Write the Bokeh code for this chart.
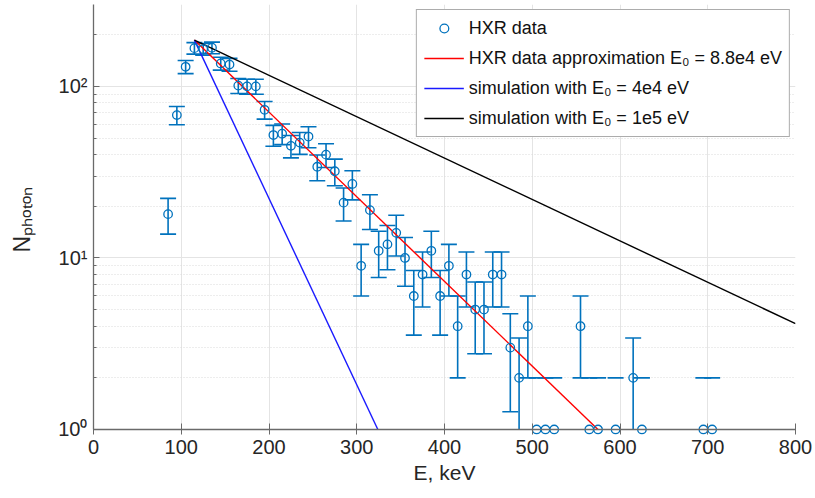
import numpy as np
from bokeh.plotting import figure
from bokeh.models import (FixedTicker, Legend, LegendItem, Range1d, Span,
                          ColumnDataSource, BoxAnnotation)
from bokeh.embed import file_html
from bokeh.resources import INLINE

# ---- data ----
energy_keV = [85, 95, 105, 115, 125, 135, 145, 155, 165, 175,
              185, 195, 205, 215, 225, 235, 245, 255, 265, 275,
              285, 295, 305, 315, 325, 335, 345, 355, 365, 375,
              385, 395, 405, 415, 425, 435, 445, 455, 465, 475,
              485, 495, 505, 515, 525,
              555, 565, 575, 595, 615, 625, 695, 705]
photon_counts = [18, 68, 130, 167, 165, 168, 136, 134, 101, 100,
                 100, 73, 52, 53, 45, 47, 51, 34, 40, 32,
                 21, 27, 9, 19, 11, 12, 14, 10, 6, 8,
                 11, 6, 9, 4, 8, 5, 5, 8, 8, 3,
                 2, 4, 1, 1, 1,
                 4, 1, 1, 1, 2, 1, 1, 1]

x_ticks = [0, 100, 200, 300, 400, 500, 600, 700, 800]
y_ticks = [1, 10, 100]
y_tick_labels = ["10\u2070", "10\u00b9", "10\u00b2"]
y_minor_ticks = [2, 3, 4, 5, 6, 7, 8, 9, 20, 30, 40, 50, 60, 70, 80, 90, 200]

# model lines: N = N0 * exp(-(E - E_start) / E0)
line_start_keV = 115
line_start_counts = 186
line_E0_keV = [88, 40, 180]
line_labels = ["HXR data approximation E\u2080 = 8.8e4 eV",
               "simulation with E\u2080 = 4e4 eV",
               "simulation with E\u2080 = 1e5 eV"]
line_colors = ["#ff0000", "#1a1aff", "#000000"]

data_color = "#0072BD"
axis_color = "#6a6a6a"
FONT = "Liberation Sans"

E = np.array(energy_keV, dtype=float)
N = np.array(photon_counts, dtype=float)
err = np.sqrt(N)
upper = N + err
lower = N - err

p = figure(width=815, height=498,
           x_range=Range1d(0, 800), y_range=Range1d(0.935, 300),
           y_axis_type="log", output_backend="svg", toolbar_location=None,
           min_border_left=93, min_border_right=20,
           min_border_top=4, min_border_bottom=64)
p.outline_line_color = None
p.background_fill_color = "white"
p.border_fill_color = "white"

# grids
p.xgrid.ticker = FixedTicker(ticks=x_ticks, minor_ticks=[])
p.xgrid.grid_line_color = "#e4e4e4"
p.ygrid.ticker = FixedTicker(ticks=y_ticks, minor_ticks=y_minor_ticks)
p.ygrid.grid_line_color = "#e4e4e4"
p.ygrid.minor_grid_line_color = "#dadada"
p.ygrid.minor_grid_line_dash = "1 2"

# white mask below y = 1 (the visible x axis sits at y = 1)
p.add_layout(BoxAnnotation(top=1, fill_color="white", fill_alpha=1,
                           line_color=None, level="underlay"))
p.add_layout(Span(location=1, dimension="width", line_color=axis_color,
                  line_width=1.3))

# axes
xa = p.xaxis[0]
xa.ticker = FixedTicker(ticks=x_ticks, minor_ticks=[])
xa.axis_label = "E, keV"
xa.axis_label_text_font = FONT
xa.axis_label_text_font_size = "21px"
xa.axis_label_text_font_style = "normal"
xa.axis_label_text_color = "#262626"
xa.axis_label_standoff = 4
xa.major_label_text_font = FONT
xa.major_label_text_font_size = "20px"
xa.major_label_text_color = "#262626"
xa.major_label_standoff = 5
xa.major_tick_in = 11
xa.major_tick_out = 0
xa.minor_tick_in = 0
xa.minor_tick_out = 0
xa.axis_line_color = None
xa.major_tick_line_color = axis_color

ya = p.yaxis[0]
ya.ticker = FixedTicker(ticks=y_ticks, minor_ticks=y_minor_ticks)
ya.major_label_overrides = {t: s for t, s in zip(y_ticks, y_tick_labels)}
ya.bounds = (1, 300)
ya.axis_label = "N\u209a\u2095\u2092\u209c\u2092\u2099"
ya.axis_label_text_font = FONT
ya.axis_label_text_font_size = "23px"
ya.axis_label_text_font_style = "normal"
ya.axis_label_text_color = "#262626"
ya.axis_label_standoff = 20
ya.major_label_text_font = FONT
ya.major_label_text_font_size = "20px"
ya.major_label_text_color = "#262626"
ya.major_label_standoff = 6
ya.major_tick_in = 6
ya.major_tick_out = 0
ya.minor_tick_in = 3
ya.minor_tick_out = 0
ya.axis_line_color = axis_color
ya.major_tick_line_color = axis_color
ya.minor_tick_line_color = axis_color
ya.axis_line_width = 1.3

# error bars
pos = lower > 0
seg_src = ColumnDataSource(dict(x=E[pos], y0=np.maximum(lower[pos], 1),
                                y1=upper[pos]))
p.segment(x0="x", y0="y0", x1="x", y1="y1", source=seg_src,
          line_color=data_color, line_width=1.6)
p.scatter(E, upper, marker="dash", size=16,
          line_color=data_color, line_width=1.6)
lmask = lower >= 1
p.scatter(E[lmask], lower[lmask], marker="dash", size=16,
          line_color=data_color, line_width=1.6)

# model lines
line_renderers = []
for e0, col in zip(line_E0_keV, line_colors):
    e_end = min(800.0, line_start_keV + e0 * np.log(line_start_counts / 1.0))
    xs = np.array([line_start_keV, e_end], dtype=float)
    ys = line_start_counts * np.exp(-(xs - line_start_keV) / e0)
    r = p.line(xs, ys, line_color=col, line_width=1.4)
    line_renderers.append(r)

# data markers
circ = p.scatter(E, N, marker="circle", size=8.5, fill_color=None,
                 line_color=data_color, line_width=1.3)

items = [LegendItem(label="HXR data", renderers=[circ])]
for lab, r in zip(line_labels, line_renderers):
    items.append(LegendItem(label=lab, renderers=[r]))
legend = Legend(items=items, location="top_right", margin=5,
                label_text_font=FONT, label_text_font_size="18px",
                label_text_color="#111111",
                glyph_width=40, glyph_height=22, label_height=22,
                spacing=8, padding=7, label_standoff=5,
                border_line_color="#5a5a5a", border_line_width=1,
                background_fill_color="white", background_fill_alpha=1)
p.add_layout(legend)

open("out.html", "w").write(file_html(p, INLINE))
